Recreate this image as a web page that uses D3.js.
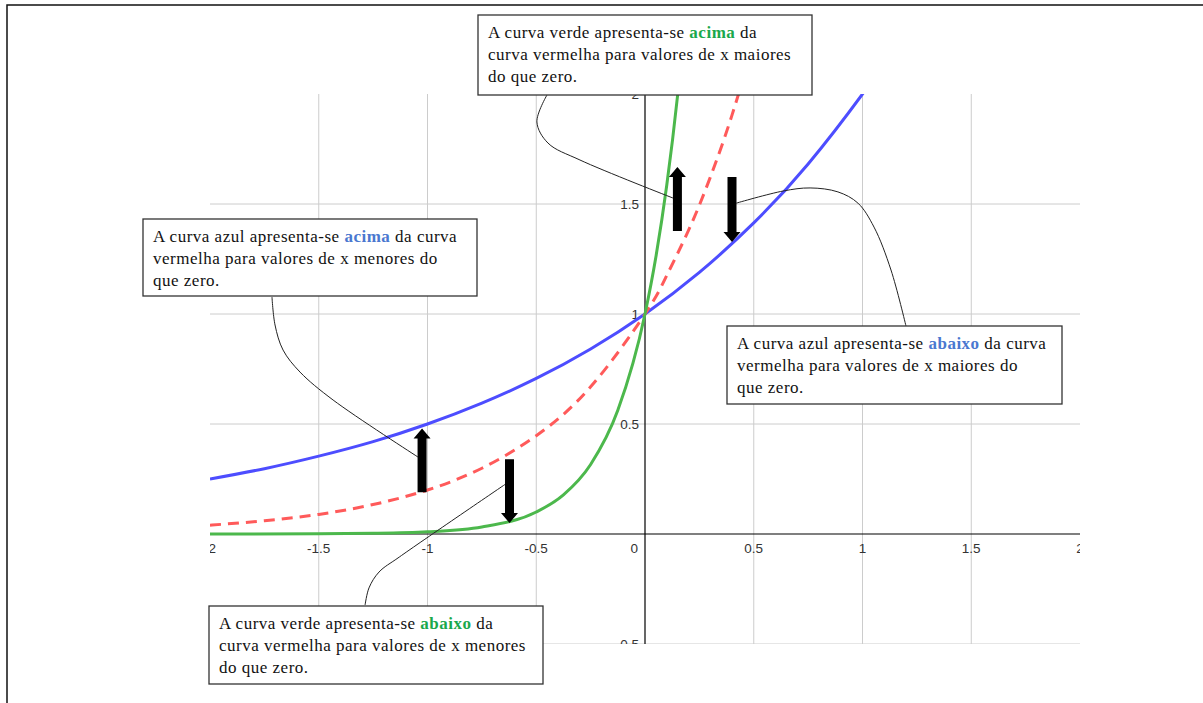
<!DOCTYPE html>
<html>
<head>
<meta charset="utf-8">
<script src="https://cdn.jsdelivr.net/npm/d3@7"></script>
<style>
  html, body { margin: 0; padding: 0; background: #fff; }
  svg { display: block; }
</style>
</head>
<body>
<svg id="chart" width="1203" height="703"></svg>
<script>
// ---- data ----
const xTicks = [-2, -1.5, -1, -0.5, 0, 0.5, 1, 1.5, 2];
const yTicks = [-0.5, 0, 0.5, 1, 1.5, 2];
const xTickLabels = ["-2", "-1.5", "-1", "-0.5", "0", "0.5", "1", "1.5", "2"];
const yTickLabels = ["-0.5", "0", "0.5", "1", "1.5", "2"];

const blueX = [-2, -1.75, -1.5, -1.25, -1, -0.75, -0.5, -0.25, 0, 0.25, 0.5, 0.75, 1, 1.1];
const blueY = [0.250, 0.297, 0.354, 0.420, 0.500, 0.595, 0.707, 0.841, 1.000, 1.189, 1.414, 1.682, 2.000, 2.144];

const redX = [-2, -1.75, -1.5, -1.25, -1, -0.75, -0.5, -0.25, 0, 0.1, 0.2, 0.3, 0.4, 0.5];
const redY = [0.040, 0.060, 0.089, 0.134, 0.200, 0.299, 0.447, 0.669, 1.000, 1.175, 1.380, 1.621, 1.904, 2.236];

const greenX = [-2, -1.5, -1.25, -1, -0.75, -0.5, -0.375, -0.25, -0.125, 0, 0.05, 0.1, 0.15, 0.2];
const greenY = [0.0001, 0.001, 0.003, 0.010, 0.032, 0.100, 0.178, 0.316, 0.562, 1.000, 1.259, 1.585, 1.995, 2.512];

// arrows: x position, start value, tip value
const arrowX = [-1.025, -0.623, 0.149, 0.400];
const arrowFrom = [0.19, 0.34, 1.377, 1.623];
const arrowTo = [0.48, 0.05, 1.668, 1.327];

// annotation texts
const noteLines = [
  [["A curva verde apresenta-se ", null], ["acima", "green"], [" da", null]],
  [["A curva azul apresenta-se ", null], ["acima", "blue"], [" da curva", null]],
  [["A curva azul apresenta-se ", null], ["abaixo", "blue"], [" da curva", null]],
  [["A curva verde apresenta-se ", null], ["abaixo", "green"], [" da", null]]
];
const noteLine2 = ["curva vermelha para valores de x maiores", "vermelha para valores de x menores do", "vermelha para valores de x maiores do", "curva vermelha para valores de x menores"];
const noteLine3 = ["do que zero.", "que zero.", "que zero.", "do que zero."];

// ---- layout ----
const svg = d3.select("#chart");
const plotL = 210, plotR = 1080, plotT = 94, plotB = 644;
const x = d3.scaleLinear().domain([-2, 2]).range([plotL, plotR]);
const y = d3.scaleLinear().domain([-0.5, 2]).range([plotB, plotT]);

// outer frame
svg.append("rect").attr("x", 7).attr("y", 5).attr("width", 1210).attr("height", 720)
  .attr("fill", "none").attr("stroke", "#111").attr("stroke-width", 1.5);

svg.append("defs").append("clipPath").attr("id", "plotclip")
  .append("rect").attr("x", plotL).attr("y", plotT).attr("width", plotR - plotL).attr("height", plotB - plotT);

const plot = svg.append("g").attr("clip-path", "url(#plotclip)");

// grid
plot.append("g").selectAll("line").data(xTicks.filter(d => d !== 0 && d !== -2 && d !== 2)).join("line")
  .attr("x1", d => x(d)).attr("x2", d => x(d)).attr("y1", plotT).attr("y2", plotB)
  .attr("stroke", "#cccccc").attr("stroke-width", 1);
plot.append("g").selectAll("line").data(yTicks.filter(d => d !== 0 && d !== 2)).join("line")
  .attr("x1", plotL).attr("x2", plotR).attr("y1", d => y(d)).attr("y2", d => y(d))
  .attr("stroke", "#cccccc").attr("stroke-width", 1);

// axes
plot.append("line").attr("x1", plotL).attr("x2", plotR).attr("y1", y(0)).attr("y2", y(0))
  .attr("stroke", "#000").attr("stroke-width", 1.2);
plot.append("line").attr("x1", x(0)).attr("x2", x(0)).attr("y1", plotT).attr("y2", plotB)
  .attr("stroke", "#000").attr("stroke-width", 1.2);

// tick labels
plot.append("g").selectAll("text").data(xTicks).join("text")
  .attr("x", (d) => d === 0 ? x(0) - 7 : x(d))
  .attr("y", y(0) + 19)
  .attr("text-anchor", d => d === 0 ? "end" : "middle")
  .attr("font-family", "Arial, 'Liberation Sans', sans-serif").attr("font-size", 13.5)
  .attr("fill", "#333")
  .text((d, i) => xTickLabels[i]);
plot.append("g").selectAll("text").data(yTicks.filter(d => d !== 0)).join("text")
  .attr("x", x(0) - 6)
  .attr("y", d => y(d) + 5)
  .attr("text-anchor", "end")
  .attr("font-family", "Arial, 'Liberation Sans', sans-serif").attr("font-size", 13.5)
  .attr("fill", "#333")
  .text(d => yTickLabels[yTicks.indexOf(d)]);

// curves
const line = d3.line().x(d => x(d[0])).y(d => y(d[1])).curve(d3.curveNatural);
const zip = (a, b) => a.map((v, i) => [v, b[i]]);
plot.append("path").datum(zip(blueX, blueY)).attr("d", line)
  .attr("fill", "none").attr("stroke", "#4d4dff").attr("stroke-width", 3);
plot.append("path").datum(zip(redX, redY)).attr("d", line)
  .attr("fill", "none").attr("stroke", "#ff5a5a").attr("stroke-width", 3)
  .attr("stroke-dasharray", "11,7");
plot.append("path").datum(zip(greenX, greenY)).attr("d", d3.line().x(d => x(d[0])).y(d => y(d[1])).curve(d3.curveMonotoneX))
  .attr("fill", "none").attr("stroke", "#4cb84c").attr("stroke-width", 3);

// callout leader lines (data coordinates)
const calloutA = [[-0.451, 1.995], [-0.497, 1.873], [-0.446, 1.777], [-0.299, 1.700], [0.129, 1.527]];
const calloutB = [[0.420, 1.504], [0.635, 1.559], [0.759, 1.573], [0.887, 1.555], [0.979, 1.504], [1.053, 1.395], [1.131, 1.200], [1.200, 0.945]];
const calloutC = [[-1.715, 1.077], [-1.701, 0.950], [-1.664, 0.836], [-1.586, 0.736], [-1.434, 0.609], [-1.044, 0.350]];
const calloutD = [[-1.287, -0.323], [-1.269, -0.245], [-1.223, -0.173], [-1.130, -0.105], [-0.641, 0.227]];
const leader = d3.line().x(d => x(d[0])).y(d => y(d[1])).curve(d3.curveCatmullRom.alpha(0.5));
[calloutA, calloutB, calloutC, calloutD].forEach(c => {
  svg.append("path").datum(c).attr("d", leader)
    .attr("fill", "none").attr("stroke", "#222").attr("stroke-width", 1);
});

// arrows
const shaftW = 9, headW = 17, headL = 10;
arrowX.forEach((ax, i) => {
  const px = x(ax), p0 = y(arrowFrom[i]), p1 = y(arrowTo[i]);
  const dir = p1 < p0 ? -1 : 1; // -1 = up
  const hb = p1 - dir * headL;
  const pts = [
    [px - shaftW / 2, p0], [px - shaftW / 2, hb], [px - headW / 2, hb], [px, p1],
    [px + headW / 2, hb], [px + shaftW / 2, hb], [px + shaftW / 2, p0]
  ];
  svg.append("polygon").attr("points", pts.map(p => p.join(",")).join(" "))
    .attr("fill", "#000");
});

// text boxes
const boxes = [
  {x: 478, y: 15, w: 334, h: 80},
  {x: 143, y: 219, w: 334, h: 77},
  {x: 727, y: 326, w: 335, h: 78},
  {x: 209, y: 606, w: 334, h: 78}
];
const colorMap = {green: "#1aa84c", blue: "#4a78d0"};
boxes.forEach((b, i) => {
  const g = svg.append("g");
  g.append("rect").attr("x", b.x).attr("y", b.y).attr("width", b.w).attr("height", b.h)
    .attr("fill", "#fff").attr("stroke", "#333").attr("stroke-width", 1.3);
  const t = g.append("text").attr("font-family", "'Liberation Serif', 'Times New Roman', serif")
    .attr("font-size", 17).attr("letter-spacing", 0.5).attr("fill", "#111");
  const tx = b.x + 10, ty = b.y + 23;
  const l1 = t.append("tspan").attr("x", tx).attr("y", ty);
  noteLines[i].forEach(seg => {
    const s = l1.append("tspan").text(seg[0]);
    if (seg[1]) s.attr("font-weight", "bold").attr("fill", colorMap[seg[1]]);
  });
  t.append("tspan").attr("x", tx).attr("y", ty + 22).text(noteLine2[i]);
  t.append("tspan").attr("x", tx).attr("y", ty + 44).text(noteLine3[i]);
});
</script>
</body>
</html>
